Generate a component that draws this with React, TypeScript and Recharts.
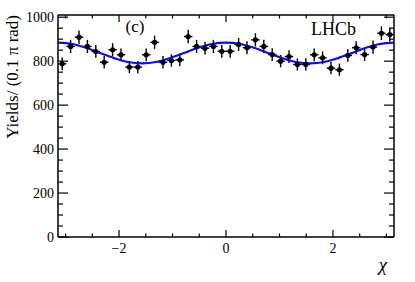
import React from "react";
import { ComposedChart, Scatter, Line, XAxis, YAxis, ErrorBar } from "recharts";

const PI = Math.PI;

// 40 bins over [-pi, pi]
const yields = [788, 867, 909, 867, 844, 795, 852, 829, 773, 773, 829, 886, 795, 803, 806, 912, 867, 859, 867, 845, 845, 876, 861, 897, 867, 830, 800, 821, 785, 785, 829, 815, 768, 761, 826, 861, 830, 864, 927, 921];
const yErrors = [29, 30, 31, 30, 29, 28, 30, 29, 28, 28, 29, 30, 28, 28, 29, 31, 30, 29, 30, 29, 29, 30, 30, 30, 30, 29, 28, 29, 28, 28, 29, 29, 28, 28, 29, 30, 29, 30, 31, 31];
// fit curve read at steps of pi/12
const fitValues = [884, 878, 861, 837, 814, 796, 790, 796, 814, 837, 861, 878, 884, 878, 861, 837, 814, 796, 790, 796, 814, 837, 861, 878, 884];

const yTicks = [0, 50, 100, 150, 200, 250, 300, 350, 400, 450, 500, 550, 600, 650, 700, 750, 800, 850, 900, 950, 1000];
const yLabels = [0, 200, 400, 600, 800, 1000];
const xTicks = [-3, -2.5, -2, -1.5, -1, -0.5, 0, 0.5, 1, 1.5, 2, 2.5, 3];
const xLabels = [-2, 0, 2];

const nBins = yields.length;
const points = yields.map((y, i) => ({
  x: -PI + (i + 0.5) * (2 * PI) / nBins,
  y,
  ex: PI / nBins,
  ey: yErrors[i],
}));
const fit = fitValues.map((y, k) => ({ x: -PI + (k * 2 * PI) / (fitValues.length - 1), f: y }));

const FONT = "Liberation Serif, Times New Roman, serif";

const fmt = (v: number) => (v < 0 ? "\u2212" + Math.abs(v) : String(v));

const LeftTick = (p: any) => {
  const v = p.payload.value;
  const major = yLabels.includes(v);
  return (
    <g>
      <line x1={p.x} x2={p.x + (major ? 10 : 5)} y1={p.y} y2={p.y} stroke="#000" strokeWidth={1.2} />
      {major && (
        <text x={p.x - 4} y={p.y + 5} textAnchor="end" fontSize={14} fontFamily={FONT} fill="#000">
          {v}
        </text>
      )}
    </g>
  );
};
const RightTick = (p: any) => {
  const v = p.payload.value;
  const major = yLabels.includes(v);
  return <line x1={p.x} x2={p.x - (major ? 10 : 5)} y1={p.y} y2={p.y} stroke="#000" strokeWidth={1.2} />;
};
const BottomTick = (p: any) => {
  const v = p.payload.value;
  const major = xLabels.includes(v);
  return (
    <g>
      <line x1={p.x} x2={p.x} y1={p.y} y2={p.y - (major ? 7 : 3.5)} stroke="#000" strokeWidth={1.2} />
      {major && (
        <text x={p.x} y={p.y + 16} textAnchor="middle" fontSize={14} fontFamily={FONT} fill="#000">
          {fmt(v)}
        </text>
      )}
    </g>
  );
};
const TopTick = (p: any) => {
  const v = p.payload.value;
  const major = xLabels.includes(v);
  return <line x1={p.x} x2={p.x} y1={p.y} y2={p.y + (major ? 7 : 3.5)} stroke="#000" strokeWidth={1.2} />;
};

const Dot = (p: any) => <circle cx={p.cx} cy={p.cy} r={2.6} fill="#000" />;

export default function App() {
  return (
    <div style={{ position: "absolute", left: 0, top: 0, width: 415, height: 282, background: "#fff" }}>
      <ComposedChart width={415} height={282} margin={{ top: 0, right: 0, bottom: 0, left: 0 }}>
        <XAxis
          xAxisId="b"
          type="number"
          dataKey="x"
          domain={[-PI, PI]}
          allowDataOverflow
          ticks={xTicks}
          interval={0}
          height={45}
          tickSize={0}
          tickMargin={0}
          tickLine={false}
          axisLine={{ stroke: "#000", strokeWidth: 1.5 }}
          tick={<BottomTick />}
        />
        <XAxis
          xAxisId="t"
          orientation="top"
          type="number"
          dataKey="x"
          domain={[-PI, PI]}
          allowDataOverflow
          ticks={xTicks}
          interval={0}
          height={15}
          tickSize={0}
          tickMargin={0}
          tickLine={false}
          axisLine={{ stroke: "#000", strokeWidth: 1.5 }}
          tick={<TopTick />}
        />
        <YAxis
          yAxisId="l"
          type="number"
          domain={[0, 1010]}
          allowDataOverflow
          ticks={yTicks}
          interval={0}
          width={58}
          tickSize={0}
          tickMargin={0}
          tickLine={false}
          axisLine={{ stroke: "#000", strokeWidth: 1.5 }}
          tick={<LeftTick />}
        />
        <YAxis
          yAxisId="r"
          orientation="right"
          type="number"
          domain={[0, 1010]}
          allowDataOverflow
          ticks={yTicks}
          interval={0}
          width={21}
          tickSize={0}
          tickMargin={0}
          tickLine={false}
          axisLine={{ stroke: "#000", strokeWidth: 1.5 }}
          tick={<RightTick />}
        />
        <Line
          xAxisId="t"
          yAxisId="r"
          data={fit}
          dataKey="f"
          stroke="none"
          dot={false}
          activeDot={false}
          isAnimationActive={false}
        />
        <Scatter xAxisId="b" yAxisId="l" data={points} dataKey="y" shape={<Dot />} isAnimationActive={false}>
          <ErrorBar dataKey="ey" direction="y" width={0} stroke="#000" strokeWidth={1.4} isAnimationActive={false} />
          <ErrorBar dataKey="ex" direction="x" width={0} stroke="#000" strokeWidth={1.4} isAnimationActive={false} />
        </Scatter>
        <Line
          xAxisId="b"
          yAxisId="l"
          data={fit}
          dataKey="f"
          type="monotone"
          stroke="#0a0aff"
          strokeWidth={2.2}
          dot={false}
          activeDot={false}
          isAnimationActive={false}
        />
        <text x={135} y={32} textAnchor="middle" fontSize={17} fontFamily={FONT} fill="#000">(c)</text>
        <text x={311} y={35} textAnchor="start" fontSize={18} fontFamily={FONT} fill="#000">LHCb</text>
        <text x={383} y={271} textAnchor="middle" fontSize={19} fontStyle="italic" fontFamily={FONT} fill="#000">χ</text>
        <text
          x={18}
          y={15}
          transform="rotate(-90, 18, 15)"
          textAnchor="end"
          fontSize={17}
          fontFamily={FONT}
          fill="#000"
        >
          Yields/ (0.1 π rad)
        </text>
      </ComposedChart>
    </div>
  );
}
